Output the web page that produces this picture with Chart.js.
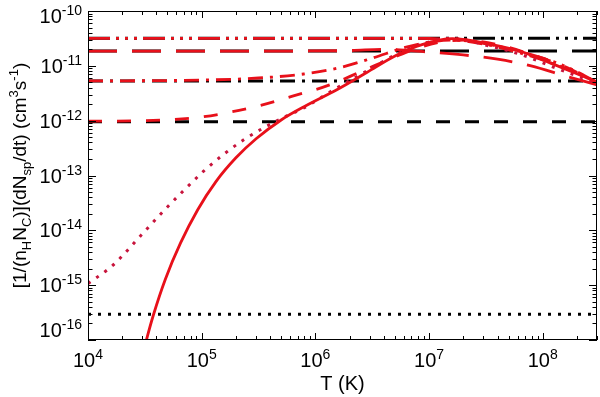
<!DOCTYPE html>
<html>
<head>
<meta charset="utf-8">
<script src="https://cdn.jsdelivr.net/npm/chart.js@4.4.0/dist/chart.umd.min.js"></script>
<style>
  html, body { margin: 0; padding: 0; background: #fff; }
</style>
</head>
<body>
<canvas id="rateChart" width="600" height="397"></canvas>
<script>
// --- data (T in K, rate in cm^3 s^-1) ---
const tRange = [1e4, 3e8];

// flat black reference levels
const levelDotted = 2.95e-16;
const levelDashed = 9.6e-13;
const levelDashDot = 5.3e-12;
const levelLongDash = 1.86e-11;
const levelDash3Dot = 3.18e-11;

// red curves
const tSolid = [2.88e4, 3.26e4, 3.76e4, 4.8e4, 6.52e4, 9.23e4, 1.33e5, 2.0e5, 3.01e5, 5.0e5, 8.32e5, 1.53e6, 2.83e6, 5.21e6, 8.67e6, 1.6e7, 3.4e7, 6.65e7, 1.3e8, 2.26e8, 3.0e8];
const rSolid = [3.5e-17, 9.9e-17, 2.86e-16, 1.3e-15, 5.89e-15, 2.38e-14, 7.67e-14, 2.1e-13, 4.67e-13, 1.03e-12, 1.89e-12, 3.63e-12, 7.55e-12, 1.57e-11, 2.44e-11, 3.13e-11, 2.5e-11, 1.79e-11, 1.03e-11, 6.5e-12, 5.06e-12];

const tDotted = [1e4, 1.66e4, 2.88e4, 4.61e4, 6.93e4, 1.04e5, 1.57e5, 2.36e5, 3.54e5, 5.32e5, 8.0e5, 1.39e6, 2.83e6, 5.21e6, 8.67e6, 1.6e7, 3.4e7, 6.65e7, 1.3e8, 2.26e8, 3.0e8];
const rDotted = [1.07e-15, 2.32e-15, 7.83e-15, 2.24e-14, 5.3e-14, 1.2e-13, 2.46e-13, 4.52e-13, 7.48e-13, 1.16e-12, 1.73e-12, 3.47e-12, 8.04e-12, 1.64e-11, 2.5e-11, 3.15e-11, 2.3e-11, 1.57e-11, 9.1e-12, 5.98e-12, 4.85e-12];

const tDashed = [1e4, 3.16e4, 1e5, 3.16e5, 6.3e5, 1.26e6, 2.5e6, 5e6, 7.9e6, 1.26e7, 2e7, 4e7, 7.9e7, 1.58e8, 3e8];
const rDashed = [9.8e-13, 1.0e-12, 1.17e-12, 1.86e-12, 2.8e-12, 4.3e-12, 7.8e-12, 1.45e-11, 2.1e-11, 2.7e-11, 2.95e-11, 2.45e-11, 1.62e-11, 9.6e-12, 4.9e-12];

const tDashDot = [1e4, 1e5, 3.16e5, 7.9e5, 1.58e6, 3.16e6, 6.3e6, 1e7, 1.58e7, 3.16e7, 6.3e7, 1.26e8, 2.5e8, 3e8];
const rDashDot = [5.3e-12, 5.5e-12, 6.0e-12, 7.1e-12, 9.1e-12, 1.38e-11, 2.2e-11, 2.7e-11, 2.95e-11, 2.45e-11, 1.72e-11, 1.08e-11, 6.1e-12, 4.9e-12];

const tLongDash = [1e4, 3.16e5, 2e6, 4e6, 1e7, 2e7, 4e7, 7.9e7, 1.58e8, 3e8];
const rLongDash = [1.86e-11, 1.86e-11, 1.9e-11, 2.0e-11, 1.78e-11, 1.58e-11, 1.32e-11, 1.0e-11, 6.5e-12, 4.5e-12];

const tDash3Dot = [1e4, 3.16e6, 1e7, 2e7, 4e7, 7.9e7, 1.58e8, 3e8];
const rDash3Dot = [3.18e-11, 3.18e-11, 3.15e-11, 2.9e-11, 2.3e-11, 1.6e-11, 9.8e-12, 5.0e-12];

// axis ticks
const xTickExps = [4, 5, 6, 7, 8];
const yTickExps = [-10, -11, -12, -13, -14, -15, -16];

const RED = "#e8101a";
const CRIMSON = "#c8143c";
const FONT = '"Liberation Sans", Arial, sans-serif';

function pts(ts, rs) {
  return ts.map((t, i) => ({ x: t, y: rs[i] }));
}
function flat(level) {
  return tRange.map((t) => ({ x: t, y: level }));
}

// draw "10^-12", "n_H" etc. as runs of normal / sub / sup text
function drawRich(ctx, parts, x, y, align, big, small) {
  let total = 0;
  parts.forEach((p) => {
    ctx.font = (p[1] === "n" ? big : small) + "px " + FONT;
    total += ctx.measureText(p[0]).width;
  });
  let cx = x;
  if (align === "center") cx = x - total / 2;
  if (align === "right") cx = x - total;
  parts.forEach((p) => {
    ctx.font = (p[1] === "n" ? big : small) + "px " + FONT;
    const dy = p[1] === "sup" ? -8 : p[1] === "sub" ? 5 : 0;
    ctx.fillText(p[0], cx, y + dy);
    cx += ctx.measureText(p[0]).width;
  });
}

// frame, inward ticks on all four sides, and the labels
const framePlugin = {
  id: "frame",
  afterDraw(chart) {
    const { ctx, chartArea: a, scales } = chart;
    const xs = scales.x, ys = scales.y;
    ctx.save();
    ctx.strokeStyle = "#000";
    ctx.lineWidth = 1;
    ctx.strokeRect(a.left + 0.5, a.top + 0.5, a.right - a.left - 1, a.bottom - a.top - 1);

    ctx.beginPath();
    xTickExps.forEach((e) => {
      for (let k = 1; k <= 9; k++) {
        const v = k * Math.pow(10, e);
        if (v > xs.max) break;
        const px = Math.round(xs.getPixelForValue(v)) + 0.5;
        const len = k === 1 ? 7 : 4;
        ctx.moveTo(px, a.bottom); ctx.lineTo(px, a.bottom - len);
        ctx.moveTo(px, a.top); ctx.lineTo(px, a.top + len);
      }
    });
    yTickExps.forEach((e) => {
      for (let k = 1; k <= 9; k++) {
        const v = k * Math.pow(10, e);
        if (v > ys.max * 1.0001) break;
        const py = Math.round(ys.getPixelForValue(v)) + 0.5;
        const len = k === 1 ? 8 : 4.5;
        ctx.moveTo(a.left, py); ctx.lineTo(a.left + len, py);
        ctx.moveTo(a.right, py); ctx.lineTo(a.right - len, py);
      }
    });
    ctx.stroke();

    ctx.fillStyle = "#000";
    ctx.textBaseline = "alphabetic";
    ctx.textAlign = "left";
    xTickExps.forEach((e) => {
      const px = xs.getPixelForValue(Math.pow(10, e));
      drawRich(ctx, [["10", "n"], [String(e), "sup"]], px, 367, "center", 20, 14);
    });
    yTickExps.forEach((e) => {
      let py = ys.getPixelForValue(Math.pow(10, e));
      py = Math.min(Math.max(py, a.top + 5), a.bottom - 10);
      drawRich(ctx, [["10", "n"], [String(e), "sup"]], 82, py + 7, "right", 20, 14);
    });

    drawRich(ctx, [["T (K)", "n"]], (a.left + a.right) / 2, 390, "center", 20, 14);

    ctx.translate(26, (a.top + a.bottom) / 2);
    ctx.rotate(-Math.PI / 2);
    drawRich(ctx, [
      ["[1/(n", "n"], ["H", "sub"], ["N", "n"], ["C", "sub"],
      [")](dN", "n"], ["sp", "sub"], ["/dt) (cm", "n"], ["3", "sup"],
      ["s", "n"], ["-1", "sup"], [")", "n"]
    ], 0, 0, "center", 19, 13);
    ctx.restore();
  }
};

const hiddenAxis = {
  type: "logarithmic",
  grid: { display: false, drawTicks: false },
  border: { display: false },
  ticks: { display: false },
};

new Chart(document.getElementById("rateChart"), {
  type: "line",
  data: {
    datasets: [
      { data: pts(tSolid, rSolid), borderColor: RED, borderWidth: 2.8, cubicInterpolationMode: "monotone" },
      { data: pts(tDotted, rDotted), borderColor: CRIMSON, borderWidth: 3, borderDash: [3, 7], cubicInterpolationMode: "monotone" },
      { data: pts(tDashed, rDashed), borderColor: RED, borderWidth: 2.8, borderDash: [14, 15], cubicInterpolationMode: "monotone" },
      { data: pts(tDashDot, rDashDot), borderColor: RED, borderWidth: 2.8, borderDash: [15, 7, 3, 7], cubicInterpolationMode: "monotone" },
      { data: pts(tLongDash, rLongDash), borderColor: RED, borderWidth: 2.8, borderDash: [29, 15], cubicInterpolationMode: "monotone" },
      { data: pts(tDash3Dot, rDash3Dot), borderColor: RED, borderWidth: 2.8, borderDash: [22, 6, 3, 6, 3, 6, 3, 6], cubicInterpolationMode: "monotone" },
      { data: flat(levelDotted), borderColor: "#000", borderWidth: 3, borderDash: [3, 7] },
      { data: flat(levelDashed), borderColor: "#000", borderWidth: 3, borderDash: [14, 15] },
      { data: flat(levelDashDot), borderColor: "#000", borderWidth: 3, borderDash: [15, 7, 3, 7] },
      { data: flat(levelLongDash), borderColor: "#000", borderWidth: 3, borderDash: [29, 15] },
      { data: flat(levelDash3Dot), borderColor: "#000", borderWidth: 3, borderDash: [22, 6, 3, 6, 3, 6, 3, 6] },
    ],
  },
  options: {
    responsive: false,
    animation: false,
    layout: { padding: { left: 88, right: 3, top: 11, bottom: 57 } },
    elements: { point: { radius: 0 } },
    plugins: { legend: { display: false }, tooltip: { enabled: false } },
    scales: {
      x: { ...hiddenAxis, min: tRange[0], max: tRange[1] },
      y: { ...hiddenAxis, min: 1e-16, max: 1e-10 },
    },
  },
  plugins: [framePlugin],
});
</script>
</body>
</html>
